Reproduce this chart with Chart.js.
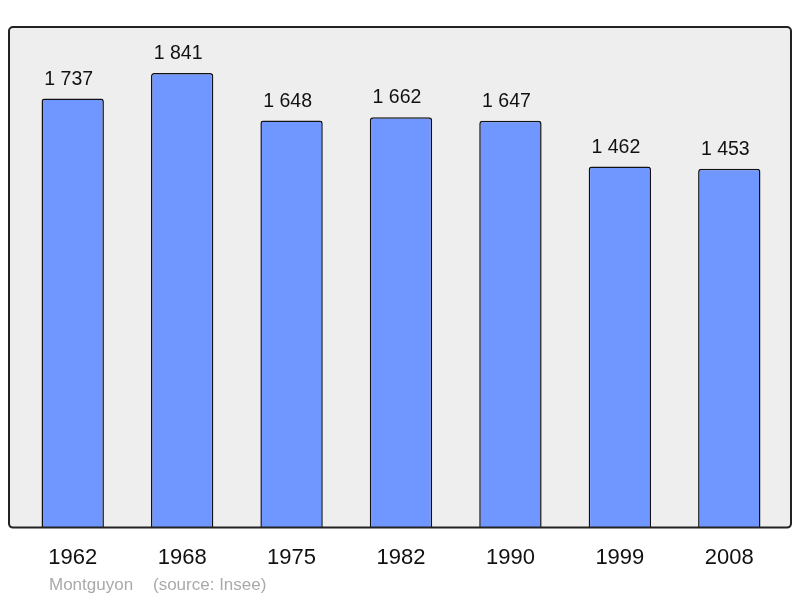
<!DOCTYPE html>
<html>
<head>
<meta charset="utf-8">
<script src="https://cdn.jsdelivr.net/npm/chart.js@4/dist/chart.umd.min.js"></script>
<style>
  html, body { margin: 0; padding: 0; background: #fff; }
  #wrap { width: 800px; height: 598px; }
</style>
</head>
<body>
<div id="wrap"><canvas id="chart" width="800" height="598"></canvas></div>
<script>
// données de population
const years = ['1962', '1968', '1975', '1982', '1990', '1999', '2008'];
const population = [1737, 1841, 1648, 1662, 1647, 1462, 1453];
const yMax = 2027;

const fontFamily = '"Liberation Sans", Arial, sans-serif';

function formatNumber(v) {
    return String(v).replace(/\B(?=(\d{3})+(?!\d))/g, ' ');
}

// cadre gris derrière les barres
const framePlugin = {
    id: 'frame',
    beforeDatasetsDraw(chart) {
        const { ctx, chartArea } = chart;
        const x0 = chartArea.left - 9, x1 = chartArea.right + 7;
        const y0 = chartArea.top, y1 = chartArea.bottom;
        ctx.save();
        ctx.beginPath();
        ctx.roundRect(x0, y0, x1 - x0, y1 - y0, 4);
        ctx.fillStyle = '#eeeeee';
        ctx.fill();
        ctx.restore();
    },
    afterDatasetsDraw(chart) {
        const { ctx, chartArea } = chart;
        const x0 = chartArea.left - 9, x1 = chartArea.right + 7;
        const y0 = chartArea.top, y1 = chartArea.bottom;
        ctx.save();
        ctx.beginPath();
        ctx.roundRect(x0, y0, x1 - x0, y1 - y0, 4);
        ctx.lineWidth = 2;
        ctx.strokeStyle = '#222222';
        ctx.stroke();

        // valeurs au-dessus des barres
        const meta = chart.getDatasetMeta(0);
        ctx.fillStyle = '#111111';
        ctx.font = '19.5px ' + fontFamily;
        ctx.textAlign = 'center';
        ctx.textBaseline = 'alphabetic';
        meta.data.forEach((bar, i) => {
            ctx.fillText(formatNumber(population[i]), bar.x - 4, bar.y - 14);
        });

        // source
        ctx.fillStyle = '#aaaaaa';
        ctx.font = '17px ' + fontFamily;
        ctx.textAlign = 'left';
        ctx.fillText('Montguyon', 49, 590);
        ctx.fillText('(source: Insee)', 153, 590);
        ctx.restore();
    }
};

new Chart(document.getElementById('chart'), {
    type: 'bar',
    data: {
        labels: years,
        datasets: [{
            data: population,
            backgroundColor: '#7096ff',
            borderColor: '#111111',
            borderWidth: 1.5,
            borderSkipped: 'bottom',
            borderRadius: { topLeft: 3, topRight: 3 },
            barPercentage: 0.57,
            categoryPercentage: 1
        }]
    },
    options: {
        responsive: false,
        animation: false,
        layout: { padding: { left: 18, right: 16, top: 27, bottom: 18 } },
        plugins: {
            legend: { display: false },
            tooltip: { enabled: false }
        },
        scales: {
            x: {
                grid: { display: false },
                border: { display: false },
                ticks: {
                    color: '#111111',
                    padding: 9,
                    font: { size: 22, family: fontFamily }
                }
            },
            y: {
                display: false,
                min: 0,
                max: yMax
            }
        }
    },
    plugins: [framePlugin]
});
</script>
</body>
</html>
